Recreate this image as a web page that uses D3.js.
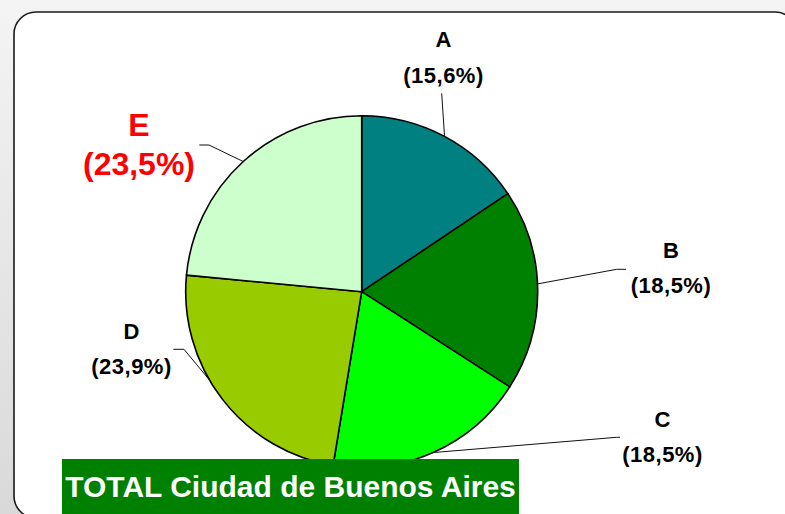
<!DOCTYPE html>
<html>
<head>
<meta charset="utf-8">
<script src="https://cdn.jsdelivr.net/npm/d3@7"></script>
<style>
  html, body { margin: 0; padding: 0; background: #fff; }
  svg { display: block; }
  text { font-family: "Liberation Sans", Arial, sans-serif; font-weight: bold; }
</style>
</head>
<body>
<svg id="chart" width="785" height="514"></svg>
<script>
// ---- data ----
const categories = ["A", "B", "C", "D", "E"];
const values = [15.6, 18.5, 18.5, 23.9, 23.5];
const valueLabels = ["(15,6%)", "(18,5%)", "(18,5%)", "(23,9%)", "(23,5%)"];
const colors = ["#008080", "#008000", "#00ff00", "#99cc00", "#ccffcc"];
const title = "TOTAL Ciudad de Buenos Aires";

// ---- layout ----
const W = 785, H = 514;
const cx = 361.7, cy = 291.7, R = 176;
// label layout: text x, name baseline, pct baseline, font size, color, leader elbow + end, leader angle tweak (deg)
const labelLayout = [
  { x: 443.5, y1: 46.7, y2: 83.3, size: 22, ls: 0.5, color: "#000", elbow: [441.7, 93.3], end: [441.7, 93.3], off: 0 },
  { x: 671, y1: 258.3, y2: 293.3, size: 22, ls: 0.5, color: "#000", elbow: [616.7, 269.3], end: [626, 269.3], off: -2 },
  { x: 662.5, y1: 427.3, y2: 461.7, size: 22, ls: 0.5, color: "#000", elbow: [616.7, 437.3], end: [620, 437.3], off: 0 },
  { x: 131.5, y1: 339.3, y2: 374, size: 22, ls: 0.5, color: "#000", elbow: [184, 349.3], end: [173.3, 349.3], off: 7.5 },
  { x: 139, y1: 136, y2: 175, size: 32, ls: 0, color: "#ff0000", elbow: [209, 145], end: [199.3, 145], off: 0 }
];

const svg = d3.select("#chart");
const defs = svg.append("defs");
const grad = defs.append("linearGradient").attr("id", "bg").attr("x1", 0).attr("y1", 0).attr("x2", 0).attr("y2", 1);
grad.append("stop").attr("offset", "0%").attr("stop-color", "#f4f4f4");
grad.append("stop").attr("offset", "100%").attr("stop-color", "#d9d9d9");

svg.append("rect").attr("width", W).attr("height", H).attr("fill", "url(#bg)");
svg.append("rect")
  .attr("x", 14).attr("y", 12).attr("width", 783).attr("height", 506)
  .attr("rx", 22).attr("ry", 22)
  .attr("fill", "#fff").attr("stroke", "#1a1a1a").attr("stroke-width", 1.6);

const data = categories.map((c, i) => ({ cat: c, value: values[i], label: valueLabels[i], color: colors[i], lay: labelLayout[i] }));

const pie = d3.pie().sort(null).value(d => d.value);
const arc = d3.arc().innerRadius(0).outerRadius(R);
const arcs = pie(data);

const g = svg.append("g").attr("transform", `translate(${cx},${cy})`);
g.selectAll("path.slice")
  .data(arcs)
  .join("path")
  .attr("class", "slice")
  .attr("d", arc)
  .attr("fill", d => d.data.color)
  .attr("stroke", "#000")
  .attr("stroke-width", 1.6)
  .attr("stroke-linejoin", "round");

// leader lines
arcs.forEach(a => {
  const L = a.data.lay;
  const mid = (a.startAngle + a.endAngle) / 2 + L.off * Math.PI / 180;
  const sx = cx + R * Math.sin(mid), sy = cy - R * Math.cos(mid);
  svg.append("polyline")
    .attr("points", [[sx, sy], L.elbow, L.end].map(p => p.join(",")).join(" "))
    .attr("fill", "none").attr("stroke", "#111").attr("stroke-width", 1);
});

// labels
arcs.forEach(a => {
  const L = a.data.lay;
  svg.append("text").attr("x", L.x).attr("y", L.y1).attr("text-anchor", "middle")
    .attr("font-size", L.size).attr("fill", L.color).text(a.data.cat);
  svg.append("text").attr("x", L.x).attr("y", L.y2).attr("text-anchor", "middle")
    .attr("font-size", L.size).attr("letter-spacing", L.ls).attr("fill", L.color).text(a.data.label);
});

// title box
svg.append("rect").attr("x", 62).attr("y", 459).attr("width", 457).attr("height", 60).attr("fill", "#008000");
svg.append("text").attr("x", 290.5).attr("y", 497).attr("text-anchor", "middle")
  .attr("font-size", 30).attr("fill", "#fff").text(title);
</script>
</body>
</html>
